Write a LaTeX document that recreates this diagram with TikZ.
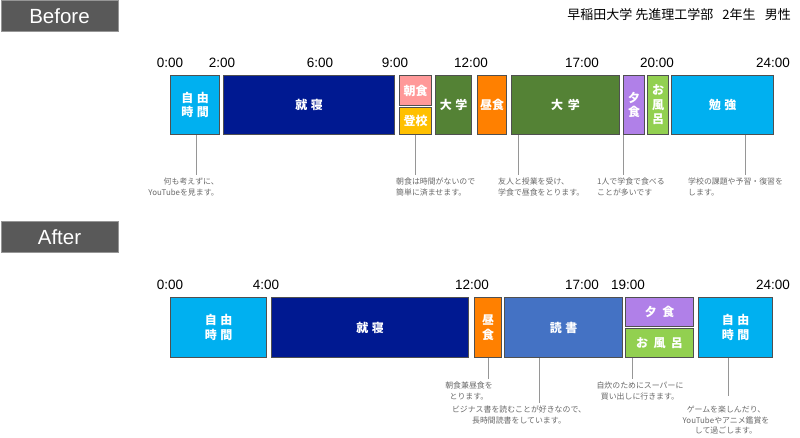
\documentclass[tikz,border=0pt]{standalone}
\usepackage{fontspec}
\setmainfont{Liberation Sans}
\newfontfamily\jp{Noto Sans CJK JP}
\usepackage{tikz}
\usetikzlibrary{calc}
\definecolor{freecyan}{RGB}{0,176,240}
\definecolor{sleepnavy}{RGB}{0,25,145}
\definecolor{bkfpink}{RGB}{255,153,153}
\definecolor{schoolyellow}{RGB}{255,192,0}
\definecolor{unigreen}{RGB}{84,130,53}
\definecolor{lunchorange}{RGB}{255,128,0}
\definecolor{dinnerpurple}{RGB}{176,128,232}
\definecolor{bathgreen}{RGB}{146,208,80}
\definecolor{readblue}{RGB}{68,114,196}
\definecolor{boxline}{RGB}{80,80,80}
\definecolor{tagfill}{RGB}{89,89,89}
\definecolor{leadline}{RGB}{150,150,150}
\definecolor{notetext}{RGB}{105,105,105}

\begin{document}
\begin{tikzpicture}[x=1pt, y=-1pt,
    block/.style={draw=boxline, line width=1.2pt, anchor=north west, inner sep=0pt, text=white, align=center, font=\jp\bfseries\fontsize{12}{14.5}\selectfont},
    time/.style={font=\fontsize{13.5}{16}\selectfont},
    note/.style={text=notetext, inner sep=3pt, font=\jp\fontsize{7.9}{10.5}\selectfont},
    lead/.style={draw=leadline, line width=0.8pt},
    tag/.style={fill=tagfill, draw=leadline, line width=1pt, anchor=north west, minimum width=117, minimum height=31, inner sep=0pt, text=white, font=\fontsize{20.5}{24}\selectfont}]

    \useasboundingbox (0,0) rectangle (800,438);

    % headers
    \node[tag] (before) at (0.5,0.5) {Before};
    \node[tag] (after) at (0.5,221) {After};
    \node[anchor=east, inner sep=0pt, font=\jp\fontsize{13}{15}\selectfont] (who) at (791,15) {早稲田大学 先進理工学部\hspace{0.7em}2年生\hspace{0.7em}男性};

    % Before
    \foreach \x/\t [count=\i] in {170/0:00, 222/2:00, 320/6:00, 395/9:00, 471/12:00, 582/17:00, 657/20:00, 773/24:00}
        \node[time] (bt\i) at (\x,63) {\t};

    \node[block, fill=freecyan, minimum width=49, minimum height=59] (b-free) at (170,75) {自\hspace{0.3em}由\\時\hspace{0.3em}間};
    \node[block, fill=sleepnavy, minimum width=171, minimum height=59] (b-sleep) at (223,75) {就\hspace{0.3em}寝};
    \node[block, fill=bkfpink, minimum width=32, minimum height=30] (b-bkf) at (399,75) {朝食};
    \node[block, fill=schoolyellow, minimum width=32, minimum height=27] (b-school) at (399,107) {登校};
    \node[block, fill=unigreen, minimum width=36, minimum height=59] (b-uni1) at (435,75) {大\hspace{0.3em}学};
    \node[block, fill=lunchorange, minimum width=29, minimum height=59] (b-lunch) at (477,75) {昼食};
    \node[block, fill=unigreen, minimum width=108, minimum height=59] (b-uni2) at (511,75) {大\hspace{0.4em}学};
    \node[block, fill=dinnerpurple, minimum width=21, minimum height=59] (b-dinner) at (623,75) {夕\\食};
    \node[block, fill=bathgreen, minimum width=21, minimum height=59] (b-bath) at (647,75) {お\\風\\呂};
    \node[block, fill=freecyan, minimum width=102, minimum height=59] (b-study) at (671,75) {勉\hspace{0.3em}強};

    \node[note, anchor=north east, align=right] (n-free) at (222,175) {何も考えずに、\\YouTubeを見ます。};
    \node[note, anchor=north west, align=left] (n-school) at (393,175) {朝食は時間がないので\\簡単に済ませます。};
    \node[note, anchor=north west, align=left] (n-uni) at (495,175) {友人と授業を受け、\\学食で昼食をとります。};
    \node[note, anchor=north west, align=left] (n-dinner) at (594,175) {1人で学食で食べる\\ことが多いです};
    \node[note, anchor=north west, align=left] (n-study) at (685,175) {学校の課題や予習・復習を\\します。};

    \draw[lead] ([xshift=26]b-free.south west) -- ([xshift=26]b-free.south west |- n-free.north);
    \draw[lead] (b-school.south) -- (b-school.south |- n-school.north);
    \draw[lead] ([xshift=7]b-uni2.south west) -- ([xshift=7]b-uni2.south west |- n-uni.north);
    \draw[lead] (b-dinner.south west) -- (b-dinner.south west |- n-dinner.north);
    \draw[lead] ([xshift=74]b-study.south west) -- ([xshift=74]b-study.south west |- n-study.north);

    % After
    \foreach \x/\t [count=\i] in {170/0:00, 266/4:00, 472/12:00, 582/17:00, 628/19:00, 773/24:00}
        \node[time] (at\i) at (\x,285) {\t};

    \node[block, fill=freecyan, minimum width=96, minimum height=60] (a-free1) at (170,297) {自\hspace{0.3em}由\\時\hspace{0.3em}間};
    \node[block, fill=sleepnavy, minimum width=197, minimum height=60] (a-sleep) at (271,297) {就\hspace{0.3em}寝};
    \node[block, fill=lunchorange, minimum width=27, minimum height=60] (a-lunch) at (474,297) {昼\\食};
    \node[block, fill=readblue, minimum width=118, minimum height=60] (a-read) at (504,297) {読\hspace{0.3em}書};
    \node[block, fill=dinnerpurple, minimum width=68, minimum height=29] (a-dinner) at (625,297) {夕\hspace{0.45em}食};
    \node[block, fill=bathgreen, minimum width=68, minimum height=29] (a-bath) at (625,328) {お\hspace{0.45em}風\hspace{0.45em}呂};
    \node[block, fill=freecyan, minimum width=74, minimum height=60] (a-free2) at (698,297) {自\hspace{0.3em}由\\時\hspace{0.3em}間};

    \node[note, anchor=north, align=center] (n-lunch) at (469,379) {朝食兼昼食を\\とります。};
    \node[note, anchor=north, align=center] (n-read) at (519,403) {ビジナス書を読むことが好きなので、\\長時間読書をしています。};
    \node[note, anchor=north, align=center] (n-bath) at (640,379) {自炊のためにスーパーに\\買い出しに行きます。};
    \node[note, anchor=north, align=center] (n-free2) at (726,403) {ゲームを楽しんだり、\\YouTubeやアニメ鑑賞を\\して過ごします。};

    \draw[lead] (a-lunch.south) -- (a-lunch.south |- n-lunch.north);
    \draw[lead] ([xshift=35]a-read.south west) -- ([xshift=35]a-read.south west |- n-read.north);
    \draw[lead] ([xshift=7]a-bath.south west) -- ([xshift=7]a-bath.south west |- n-bath.north);
    \draw[lead, shorten >=7pt] ([xshift=30]a-free2.south west) -- ([xshift=30]a-free2.south west |- n-free2.north);

\end{tikzpicture}
\end{document}
